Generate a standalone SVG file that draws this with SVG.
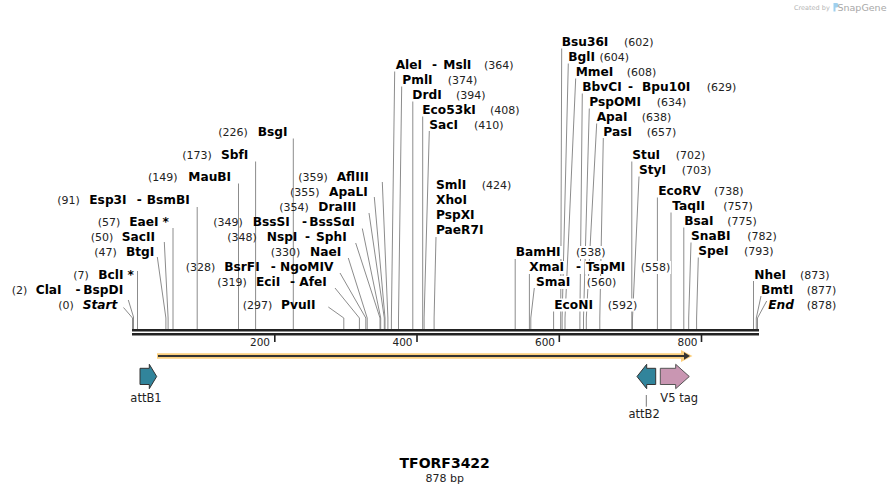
<svg xmlns="http://www.w3.org/2000/svg" width="891" height="495" viewBox="0 0 891 495">
<style>
text{font-family:"DejaVu Sans",Verdana,sans-serif}
.n{font-size:12.2px;font-weight:bold;fill:#000}
.i{font-style:italic}
.p{font-size:11px;fill:#222}
.l{fill:none;stroke:#8c8c8c;stroke-width:1}
.bg{fill:#fff}
.tk{font-size:10.5px;fill:#222;text-anchor:end}
.fl{font-size:11.5px;fill:#222}
</style>
<rect width="891" height="495" fill="#fff"/>
<g id="watermark">
<text x="794" y="10" style="font-size:6.5px;fill:#b5b5b5">Created by</text>
<path d="M833.5 3 h3 a2.2 2.2 0 0 1 0 4.4 h-1 v4 h-2 z" fill="#9fd0ee"/>
<text x="837.5" y="11" style="font-size:9.5px;fill:#a8a8a8">SnapGene</text>
</g>
<g id="connectors">
<path class="l" d="M123.5 307.5L132.5 318V329"/>
<path class="l" d="M128.3 300L133.5 317V329"/>
<path class="l" d="M137.5 271V329"/>
<path class="l" d="M157.3 257L165.9 318V329"/>
<path class="l" d="M164.3 242L168.1 318V329"/>
<path class="l" d="M173 228V329"/>
<path class="l" d="M197.2 207V329"/>
<path class="l" d="M238.5 183.5V329"/>
<path class="l" d="M255.6 161.5V329"/>
<path class="l" d="M293.3 138.5V329"/>
<path class="l" d="M328.3 307L343.8 318V329"/>
<path class="l" d="M335 288L359.4 318V329"/>
<path class="l" d="M340 273L365.8 318V329"/>
<path class="l" d="M348.3 258L367.2 318V329"/>
<path class="l" d="M355.7 243L380 318V329"/>
<path class="l" d="M362.3 228.5L380.7 318V329"/>
<path class="l" d="M369 213L384.3 318V329"/>
<path class="l" d="M374.3 197L385 318V329"/>
<path class="l" d="M382.3 182L387.9 318V329"/>
<path class="l" d="M394.7 71.5L391.4 318V329"/>
<path class="l" d="M401.7 86.5L398.5 318V329"/>
<path class="l" d="M412.8 101.5V329"/>
<path class="l" d="M422.7 116.5V329"/>
<path class="l" d="M429.3 131L424.1 318V329"/>
<path class="l" d="M436 237L434.1 318V329"/>
<path class="l" d="M515.2 258.5V329"/>
<path class="l" d="M529.4 273.5V329"/>
<path class="l" d="M534.3 288L530.8 318V329"/>
<path class="l" d="M553.6 311V329"/>
<path class="l" d="M561.7 48.5L560.7 318V329"/>
<path class="l" d="M568.3 63.5L562.1 318V329"/>
<path class="l" d="M575.7 78.5L565 318V329"/>
<path class="l" d="M582.3 93.5L579.9 318V329"/>
<path class="l" d="M589.3 108.5L583.5 318V329"/>
<path class="l" d="M596.7 123.5L586.3 318V329"/>
<path class="l" d="M603.3 138L599.8 318V329"/>
<path class="l" d="M631.8 161.5V329"/>
<path class="l" d="M639 176.5L632.5 318V329"/>
<path class="l" d="M657.4 197.5V329"/>
<path class="l" d="M671 212.5V329"/>
<path class="l" d="M683.8 227.5V329"/>
<path class="l" d="M691 242.5L688.7 318V329"/>
<path class="l" d="M698.3 257.5L696.6 318V329"/>
<path class="l" d="M753.5 281V329"/>
<path class="l" d="M761 296L756.3 318V329"/>
<path class="l" d="M766.7 301L757.5 318V329"/>
<path d="M646.3 395V406.7" stroke="#777" stroke-width="1"/>
</g>
<g id="ruler">
<rect x="132" y="329" width="627" height="2.5" fill="#222"/>
<rect x="132" y="333" width="627" height="2.5" fill="#222"/>
<path d="M274.8 335V342M417 335V342M559.3 335V342M701.5 335V342" stroke="#222" stroke-width="1.6"/>
<text class="tk" x="270" y="346">200</text>
<text class="tk" x="412.5" y="346">400</text>
<text class="tk" x="555" y="346">600</text>
<text class="tk" x="697.5" y="346">800</text>
</g>
<g id="s0"><text class="p" x="58.3" y="308.5">(0)</text><text class="n i" x="82.7" y="308.5">Start</text></g>
<g id="s2"><text class="p" x="11.7" y="293.5">(2)</text><text class="n" x="35.7" y="293.5">ClaI</text><text class="n" x="75.5" y="293.5">-</text><text class="n" x="83.3" y="293.5">BspDI</text></g>
<g id="s7"><text class="p" x="73.3" y="279">(7)</text><text class="n" x="98.3" y="279">BclI</text><text class="n" x="127.5" y="279">*</text></g>
<g id="s47"><text class="p" x="94.3" y="256">(47)</text><text class="n" x="126" y="256">BtgI</text></g>
<g id="s50"><text class="p" x="90.7" y="241">(50)</text><text class="n" x="121.7" y="241">SacII</text></g>
<g id="s57"><text class="p" x="97.7" y="226">(57)</text><text class="n" x="129.3" y="226">EaeI</text><text class="n" x="162.5" y="226">*</text></g>
<g id="s91"><text class="p" x="57.3" y="204">(91)</text><text class="n" x="89.3" y="204">Esp3I</text><text class="n" x="136.7" y="204">-</text><text class="n" x="146.7" y="204">BsmBI</text></g>
<g id="s149"><text class="p" x="148" y="181">(149)</text><text class="n" x="188.3" y="181">MauBI</text></g>
<g id="s173"><text class="p" x="182.3" y="158.5">(173)</text><text class="n" x="221" y="158.5">SbfI</text></g>
<g id="s226"><text class="p" x="218.3" y="136">(226)</text><text class="n" x="257.7" y="136">BsgI</text></g>
<g id="s359"><text class="p" x="298.3" y="181">(359)</text><text class="n" x="336.7" y="181">AflIII</text></g>
<g id="s355"><text class="p" x="290" y="196">(355)</text><text class="n" x="329" y="196">ApaLI</text></g>
<g id="s354"><text class="p" x="279.3" y="211">(354)</text><text class="n" x="318.3" y="211">DraIII</text></g>
<g id="s349"><text class="p" x="213.3" y="226">(349)</text><text class="n" x="252.7" y="226">BssSI</text><text class="n" x="302" y="226">-</text><text class="n" x="309.3" y="226">BssSαI</text></g>
<g id="s348"><text class="p" x="227.3" y="241">(348)</text><text class="n" x="266.7" y="241">NspI</text><text class="n" x="305" y="241">-</text><text class="n" x="316" y="241">SphI</text></g>
<g id="s330"><text class="p" x="270.7" y="256">(330)</text><text class="n" x="310" y="256">NaeI</text></g>
<g id="s328"><text class="p" x="185.7" y="271">(328)</text><text class="n" x="224.3" y="271">BsrFI</text><text class="n" x="270.7" y="271">-</text><text class="n" x="280" y="271">NgoMIV</text></g>
<g id="s319"><text class="p" x="217.3" y="286">(319)</text><text class="n" x="256" y="286">EciI</text><text class="n" x="290" y="286">-</text><text class="n" x="299.3" y="286">AfeI</text></g>
<g id="s297"><text class="p" x="242.7" y="309">(297)</text><text class="n" x="281" y="309">PvuII</text></g>
<g id="s364"><text class="n" x="395.7" y="68.5">AleI</text><text class="n" x="432" y="68.5">-</text><text class="n" x="443.3" y="68.5">MslI</text><text class="p" x="484" y="68.5">(364)</text></g>
<g id="s374"><text class="n" x="402.3" y="83.5">PmlI</text><text class="p" x="447.7" y="83.5">(374)</text></g>
<g id="s394"><text class="n" x="412.3" y="98.5">DrdI</text><text class="p" x="456" y="98.5">(394)</text></g>
<g id="s408"><text class="n" x="422.3" y="113.5">Eco53kI</text><text class="p" x="490" y="113.5">(408)</text></g>
<g id="s410"><text class="n" x="429.3" y="128.5">SacI</text><text class="p" x="474" y="128.5">(410)</text></g>
<g id="s424"><text class="n" x="436" y="189">SmlI</text><text class="p" x="481.7" y="189">(424)</text><text class="n" x="436" y="204">XhoI</text><text class="n" x="436" y="219">PspXI</text><text class="n" x="436" y="234">PaeR7I</text></g>
<g id="s538"><rect class="bg" x="514" y="246" width="48" height="13"/><rect class="bg" x="575" y="246" width="31" height="13"/><text class="n" x="515.7" y="256">BamHI</text><text class="p" x="576" y="256">(538)</text></g>
<g id="s558"><rect class="bg" x="528" y="261" width="37" height="13"/><rect class="bg" x="574.5" y="261" width="8.5" height="13"/><rect class="bg" x="585" y="261" width="43" height="13"/><rect class="bg" x="639" y="261" width="32" height="13"/><text class="n" x="529.3" y="271">XmaI</text><text class="n" x="576" y="271">-</text><text class="n" x="586" y="271">TspMI</text><text class="p" x="640.7" y="271">(558)</text></g>
<g id="s560"><rect class="bg" x="535" y="276" width="37" height="13"/><rect class="bg" x="585" y="276" width="32" height="13"/><text class="n" x="536" y="286">SmaI</text><text class="p" x="586.7" y="286">(560)</text></g>
<g id="s592"><rect class="bg" x="553" y="298.5" width="42" height="13"/><rect class="bg" x="606" y="298.5" width="32" height="13"/><text class="n" x="554.3" y="308.5">EcoNI</text><text class="p" x="607.7" y="308.5">(592)</text></g>
<g id="s602"><text class="n" x="561.7" y="46">Bsu36I</text><text class="p" x="624" y="46">(602)</text></g>
<g id="s604"><text class="n" x="568.3" y="61">BglI</text><text class="p" x="599.5" y="61">(604)</text></g>
<g id="s608"><text class="n" x="575.7" y="76">MmeI</text><text class="p" x="626.7" y="76">(608)</text></g>
<g id="s629"><text class="n" x="582.3" y="91">BbvCI</text><text class="n" x="628" y="91">-</text><text class="n" x="642" y="91">Bpu10I</text><text class="p" x="706.7" y="91">(629)</text></g>
<g id="s634"><text class="n" x="589.3" y="106">PspOMI</text><text class="p" x="656.7" y="106">(634)</text></g>
<g id="s638"><text class="n" x="596.7" y="121">ApaI</text><text class="p" x="641.7" y="121">(638)</text></g>
<g id="s657"><text class="n" x="603.3" y="135.5">PasI</text><text class="p" x="646.7" y="135.5">(657)</text></g>
<g id="s702"><text class="n" x="632.3" y="159">StuI</text><text class="p" x="675.7" y="159">(702)</text></g>
<g id="s703"><text class="n" x="639" y="174">StyI</text><text class="p" x="681.7" y="174">(703)</text></g>
<g id="s738"><text class="n" x="658.3" y="195">EcoRV</text><text class="p" x="714" y="195">(738)</text></g>
<g id="s757"><text class="n" x="672.3" y="210">TaqII</text><text class="p" x="723.3" y="210">(757)</text></g>
<g id="s775"><text class="n" x="684.3" y="225">BsaI</text><text class="p" x="727.3" y="225">(775)</text></g>
<g id="s782"><text class="n" x="691" y="240">SnaBI</text><text class="p" x="747.3" y="240">(782)</text></g>
<g id="s793"><text class="n" x="698.3" y="255">SpeI</text><text class="p" x="744" y="255">(793)</text></g>
<g id="s873"><text class="n" x="754.3" y="278.5">NheI</text><text class="p" x="800" y="278.5">(873)</text></g>
<g id="s877"><text class="n" x="761" y="293.5">BmtI</text><text class="p" x="806.7" y="293.5">(877)</text></g>
<g id="s878"><text class="n i" x="768.3" y="308.5">End</text><text class="p" x="806.7" y="308.5">(878)</text></g>
<g id="orf">
<path d="M157 353.2H681V350L692.5 356L681 362V358.8H157Z" fill="#fbcf7e"/>
<path d="M158 356H685" stroke="#333" stroke-width="1.8"/>
<path d="M684 352.3L690 356L684 359.7Z" fill="#333"/>
</g>
<g id="attB1">
<path d="M140 368.3H149.3V364.3L156.7 376.5L149.3 388.7V384.5H140Z" fill="#31849b" stroke="#333" stroke-width="1"/>
<text class="fl" x="146" y="401.5" text-anchor="middle">attB1</text>
</g>
<g id="attB2">
<path d="M655.7 368.3H646.7V364.3L637 376.5L646.7 388.7V384.5H655.7Z" fill="#31849b" stroke="#333" stroke-width="1"/>
<text class="fl" x="644.2" y="417.7" text-anchor="middle">attB2</text>
</g>
<g id="V5tag">
<path d="M660.3 368.3H675.7V364.3L689.3 376.5L675.7 388.7V384.5H660.3Z" fill="#c996b2" stroke="#555" stroke-width="1"/>
<text class="fl" x="660.3" y="401.5">V5 tag</text>
</g>
<g id="title">
<text x="444.7" y="468.3" text-anchor="middle" style="font-size:14px;font-weight:bold;fill:#000">TFORF3422</text>
<text x="444.7" y="482" text-anchor="middle" style="font-size:11px;fill:#222">878 bp</text>
</g>
</svg>
